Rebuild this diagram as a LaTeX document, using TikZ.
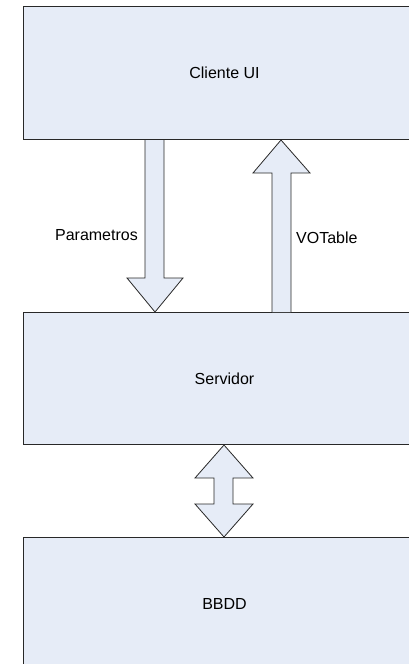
\documentclass[tikz,border=0pt]{standalone}
\usepackage{fontspec}
\setmainfont{Liberation Sans}
\usetikzlibrary{calc}
\definecolor{boxfill}{RGB}{230,236,247}
\definecolor{edge}{RGB}{40,40,40}
\begin{document}
\begin{tikzpicture}[x=1pt,y=-1pt,
  block/.style={draw=edge, line width=1pt, fill=boxfill, minimum width=402pt,
    inner sep=0pt, font=\fontsize{16}{19}\selectfont},
  fatarrow/.style={draw=edge, line width=0.8pt, fill=boxfill, line join=miter},
  lbl/.style={font=\fontsize{16}{19}\selectfont, inner sep=0pt}]
\useasboundingbox (0,0) rectangle (409,664);
\clip (0,0) rectangle (409,664);

% three tiers
\node[block, minimum height=133pt, anchor=north west] (cli) at (23,6) {Cliente UI};
\node[block, minimum height=132pt, anchor=north west] (srv) at (23,312) {Servidor};
\node[block, minimum height=132pt, anchor=north west] (db)  at (23,537) {BBDD};

% request: client -> server
\draw[fatarrow] ($(cli.south west)+(122,0)$) -- ($(srv.north west)+(122,-34)$)
  -- ($(srv.north west)+(104,-34)$) -- ($(srv.north west)+(132,0)$)
  -- ($(srv.north west)+(160,-34)$) -- ($(srv.north west)+(141,-34)$)
  -- ($(cli.south west)+(141,0)$);

% response: server -> client
\draw[fatarrow] ($(srv.north west)+(249,0)$) -- ($(cli.south west)+(249,33)$)
  -- ($(cli.south west)+(230,33)$) -- ($(cli.south west)+(258,0)$)
  -- ($(cli.south west)+(287,33)$) -- ($(cli.south west)+(268,33)$)
  -- ($(srv.north west)+(268,0)$);

% server <-> database
\draw[fatarrow] ($(srv.south west)+(201,0)$) -- ($(srv.south west)+(230,33)$)
  -- ($(srv.south west)+(210,33)$) -- ($(db.north west)+(210,-33)$)
  -- ($(db.north west)+(230,-33)$) -- ($(db.north west)+(201,0)$)
  -- ($(db.north west)+(172,-33)$) -- ($(db.north west)+(191,-33)$)
  -- ($(srv.south west)+(191,33)$) -- ($(srv.south west)+(172,33)$) -- cycle;

\node[lbl, anchor=east] (par) at (138,235) {Parametros};
\node[lbl, anchor=west] (vot) at (296,238) {VOTable};
\end{tikzpicture}
\end{document}
